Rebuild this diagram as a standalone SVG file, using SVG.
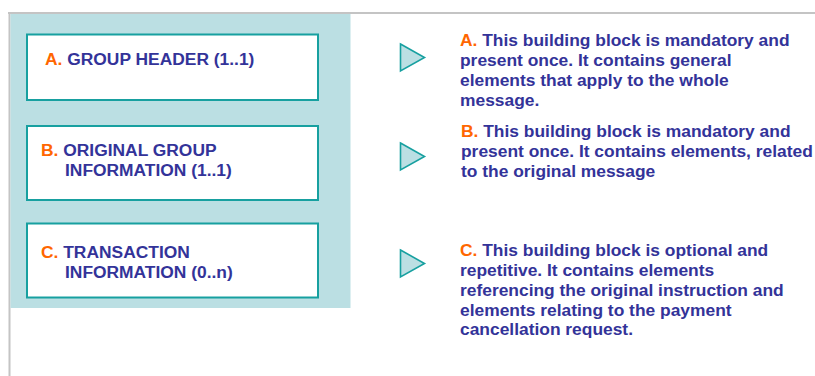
<svg xmlns="http://www.w3.org/2000/svg" width="815" height="376" viewBox="0 0 815 376">
<style>
.t{font-family:"Liberation Sans",Arial,sans-serif;font-weight:bold;font-size:17.4px;fill:#333399}
.o{fill:#FF6600}
.box{fill:#FFFFFF;stroke:#17A0A0;stroke-width:2}
.tri{fill:#BBDFE3;stroke:#17A0A0;stroke-width:1.6;stroke-linejoin:miter}
</style>
<rect x="0" y="0" width="815" height="376" fill="#FFFFFF"/>
<g id="frame">
<line x1="8" y1="13" x2="815" y2="13" stroke="#C4C4C4" stroke-width="2"/>
<line x1="9.5" y1="13" x2="9.5" y2="376" stroke="#C4C4C4" stroke-width="2"/>
<rect x="10.5" y="14" width="340" height="294" fill="#BBDFE3"/>
</g>
<g id="connectors"></g>
<g id="boxA">
<rect class="box" x="27" y="34.5" width="291" height="65.5"/>
<text class="t" x="45" y="65"><tspan class="o">A.</tspan> GROUP HEADER (1..1)</text>
</g>
<g id="boxB">
<rect class="box" x="27" y="126" width="291" height="74"/>
<text class="t" x="41" y="155.5"><tspan class="o">B.</tspan> ORIGINAL GROUP</text>
<text class="t" x="65" y="175.5">INFORMATION (1..1)</text>
</g>
<g id="boxC">
<rect class="box" x="27" y="223.5" width="291" height="74"/>
<text class="t" x="41" y="258"><tspan class="o">C.</tspan> TRANSACTION</text>
<text class="t" x="65" y="278">INFORMATION (0..n)</text>
</g>
<g id="bulletA"><polygon class="tri" points="400.5,44 424.5,57.5 400.5,71"/></g>
<g id="bulletB"><polygon class="tri" points="400.5,143 424.5,156.5 400.5,170"/></g>
<g id="bulletC"><polygon class="tri" points="400.5,250 424.5,263.5 400.5,277"/></g>
<g id="descA">
<text class="t" x="460" y="46"><tspan class="o">A.</tspan> This building block is mandatory and</text>
<text class="t" x="460" y="66">present once. It contains general</text>
<text class="t" x="460" y="86">elements that apply to the whole</text>
<text class="t" x="460" y="105.5">message.</text>
</g>
<g id="descB">
<text class="t" x="461" y="137"><tspan class="o">B.</tspan> This building block is mandatory and</text>
<text class="t" x="461" y="157">present once. It contains elements, related</text>
<text class="t" x="461" y="177">to the original message</text>
</g>
<g id="descC">
<text class="t" x="460" y="256"><tspan class="o">C.</tspan> This building block is optional and</text>
<text class="t" x="460" y="276">repetitive. It contains elements</text>
<text class="t" x="460" y="296">referencing the original instruction and</text>
<text class="t" x="460" y="315.5">elements relating to the payment</text>
<text class="t" x="460" y="335">cancellation request.</text>
</g>
</svg>
